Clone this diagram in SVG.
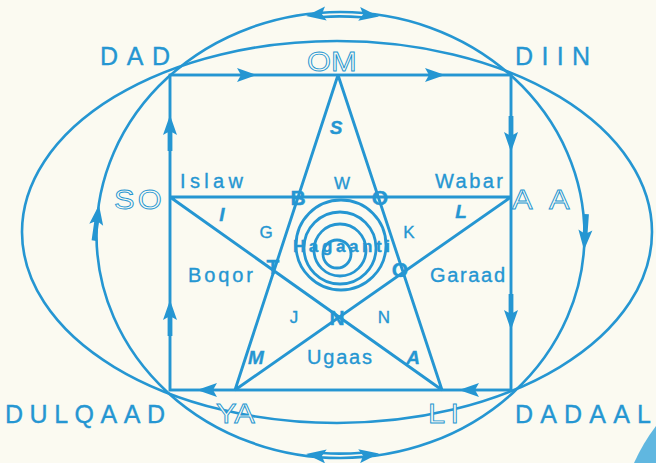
<svg xmlns="http://www.w3.org/2000/svg" xmlns:xlink="http://www.w3.org/1999/xlink" width="656" height="463" viewBox="0 0 656 463">
<style>
.ln{fill:none;stroke:#2596d2;stroke-width:2.9}
.el{fill:none;stroke:#2596d2;stroke-width:2.6}
.ah{fill:#2596d2}
.t{font-family:"Liberation Sans",Arial,sans-serif;fill:#2596d2;stroke:#2596d2;stroke-width:0.35}
.big{font-size:25px}
.ol{font-family:"Liberation Sans",Arial,sans-serif;font-size:28px;fill:#fbfaf1;stroke:#2596d2;stroke-width:0.9}
.lab{font-size:20px}
.sm{font-size:17px;text-anchor:middle}
.bi{font-size:19px;font-weight:bold;font-style:italic;text-anchor:middle}
.vx{font-size:21px;font-weight:bold;text-anchor:middle}
</style>
<defs>
<path id="h" d="M0,0 L-20,-7 L-16,0 L-20,7 Z"/>
<path id="ht" d="M0,0 L-20,-7 L-16,0 L-20,7 Z M-16,-2.4 L-36,-2.4 L-36,2.4 L-16,2.4 Z"/>
</defs>
<rect width="656" height="463" fill="#fbfaf1"/>
<path d="M656,426 Q643,443 634,463 L656,463 Z" fill="#3aa6dc" opacity="0.8"/>
<g id="connectors">
<ellipse class="el" cx="337" cy="232" rx="315" ry="191"/>
<ellipse class="el" cx="340.5" cy="235" rx="244" ry="223"/>
<rect class="ln" x="170" y="75" width="341" height="315"/>
<path class="ln" d="M338,75 L235,390 M338,75 L442,390 M170,197 L511,197 M170,197 L442,390 M511,197 L235,390"/>
<path class="el" d="M322,17 Q341,15.7 362,17.3"/>
<path class="el" d="M322,453 Q341,454.4 362,452.7"/>
<g class="ah">
<use xlink:href="#h" transform="translate(257,75)"/>
<use xlink:href="#h" transform="translate(445,75)"/>
<use xlink:href="#h" transform="translate(197,390) rotate(180)"/>
<use xlink:href="#h" transform="translate(459,390) rotate(180)"/>
<use xlink:href="#ht" transform="translate(170,115) rotate(-90)"/>
<use xlink:href="#ht" transform="translate(170,300) rotate(-90)"/>
<use xlink:href="#ht" transform="translate(511,152) rotate(90)"/>
<use xlink:href="#ht" transform="translate(511,330) rotate(90)"/>
<use xlink:href="#ht" transform="translate(99,205) rotate(-82)"/>
<use xlink:href="#ht" transform="translate(584,250) rotate(94)"/>
<use xlink:href="#h" transform="translate(306,16) rotate(173)"/>
<use xlink:href="#h" transform="translate(379,16.6) rotate(8)"/>
<use xlink:href="#h" transform="translate(306,454) rotate(187)"/>
<use xlink:href="#h" transform="translate(379,453.4) rotate(-8)"/>
</g>
<g id="circles" class="el" style="stroke-width:2.8">
<circle cx="341" cy="245" r="45"/>
<circle cx="340" cy="248" r="36"/>
<circle cx="340" cy="250" r="26"/>
<circle cx="337" cy="254" r="14"/>
</g>
</g>
<g id="n-dad"><text class="t big" x="100" y="65" textLength="70">DAD</text></g>
<g id="n-diin"><text class="t big" x="515" y="65" textLength="75">DIIN</text></g>
<g id="n-dulqaad"><text class="t big" x="5" y="423" textLength="160">DULQAAD</text></g>
<g id="n-dadaal"><text class="t big" x="515" y="423" textLength="136">DADAAL</text></g>
<g id="n-om"><text class="ol" transform="translate(307,71) scale(1.1,1)">OM</text></g>
<g id="n-so"><text class="ol" transform="translate(114,209) scale(1.1,1)" letter-spacing="3">SO</text></g>
<g id="n-aa"><text class="ol" transform="translate(512,209) scale(1.1,1)">A</text><text class="ol" transform="translate(549,209) scale(1.1,1)">A</text></g>
<g id="n-ya"><text class="ol" transform="translate(216,423) scale(1.1,1)">YA</text></g>
<g id="n-li"><text class="ol" transform="translate(428,423) scale(1.1,1)" letter-spacing="5">LI</text></g>
<g id="n-islaw"><text class="t lab" x="180" y="188" textLength="63">Islaw</text></g>
<g id="n-wabar"><text class="t lab" x="435" y="188" textLength="68">Wabar</text></g>
<g id="n-boqor"><text class="t lab" x="188" y="282" textLength="65">Boqor</text></g>
<g id="n-garaad"><text class="t lab" x="430" y="282" textLength="75">Garaad</text></g>
<g id="n-ugaas"><text class="t lab" x="307" y="364" textLength="65">Ugaas</text></g>
<g id="n-hagaanti"><text class="t" x="293" y="252" font-size="17" font-weight="bold" textLength="97">Hagaanti</text></g>
<g id="n-regions">
<text class="t sm" x="342" y="189">W</text>
<text class="t sm" x="266" y="238">G</text>
<text class="t sm" x="409" y="238">K</text>
<text class="t sm" x="294" y="323">J</text>
<text class="t sm" x="384" y="323">N</text>
</g>
<g id="n-points">
<text class="t bi" x="336" y="134">S</text>
<text class="t bi" x="222" y="221">I</text>
<text class="t bi" x="461" y="218">L</text>
<text class="t bi" x="256" y="364">M</text>
<text class="t bi" x="413" y="364">A</text>
</g>
<g id="n-vertices">
<text class="t vx" x="298" y="205">B</text>
<text class="t vx" x="380" y="205">O</text>
<text class="t vx" x="400" y="277">O</text>
<text class="t vx" x="337" y="325">N</text>
<text class="t vx" x="273" y="274">T</text>
</g>
</svg>
